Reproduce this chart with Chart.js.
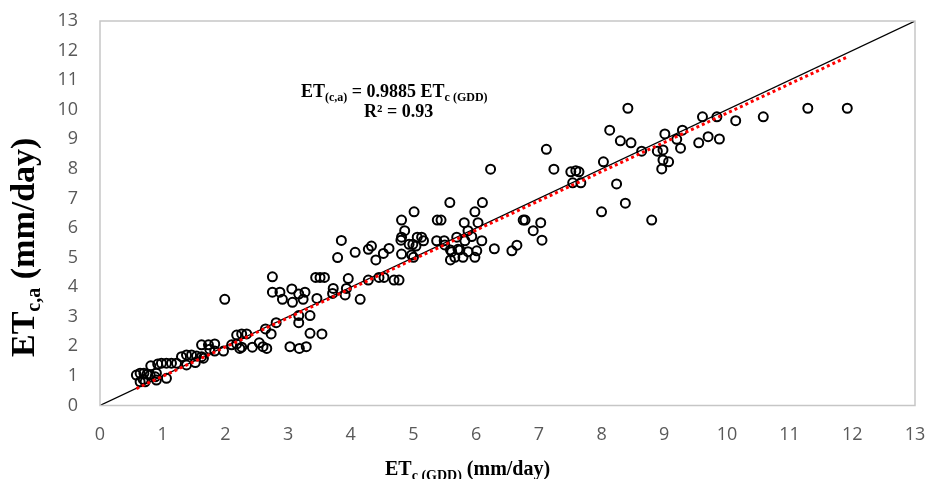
<!DOCTYPE html>
<html>
<head>
<meta charset="utf-8">
<script src="https://cdn.jsdelivr.net/npm/chart.js@4.4.1/dist/chart.umd.min.js"></script>
<style>
  html, body { margin: 0; padding: 0; background: #ffffff; }
  #wrap { width: 928px; height: 479px; }
</style>
</head>
<body>
<div id="wrap"><canvas id="etChart" width="928" height="479"></canvas></div>
<script>
const etGdd = [
    0.58, 0.64, 0.70, 0.75, 0.80, 0.64, 0.72, 0.69, 0.88, 0.90,
    0.81, 0.90, 0.92, 0.98, 1.06, 1.14, 1.22, 1.06, 1.30, 1.38,
    1.46, 1.54, 1.62, 1.38, 1.52, 1.65, 1.62, 1.73, 1.83, 1.75,
    1.97, 1.83, 1.99, 2.18, 2.10, 2.18, 2.23, 2.26, 2.34, 2.26,
    2.43, 2.54, 2.60, 2.66, 2.64, 2.73, 2.81, 2.75, 2.75, 2.87,
    2.91, 3.06, 3.07, 3.17, 3.27, 3.24, 3.03, 3.18, 3.29, 3.17,
    3.17, 3.35, 3.35, 3.54, 3.44, 3.51, 3.58, 3.46, 3.72, 3.71,
    3.93, 3.91, 3.96, 4.15, 3.85, 3.79, 4.07, 4.28, 4.33, 4.28,
    4.45, 4.53, 4.40, 4.52, 4.61, 4.69, 4.77, 4.81, 4.86, 4.81,
    4.80, 4.81, 4.93, 4.99, 5.01, 5.06, 5.13, 5.16, 5.04, 4.97,
    5.00, 5.37, 5.38, 5.44, 5.49, 5.50, 5.58, 5.59, 5.59, 5.61,
    5.66, 5.69, 5.71, 5.74, 5.79, 5.82, 5.81, 5.87, 5.87, 5.93,
    5.98, 5.98, 6.01, 6.03, 6.09, 6.10, 6.23, 6.29, 6.57, 6.65,
    6.75, 6.78, 6.91, 7.03, 7.05, 7.12, 7.24, 7.51, 7.59, 7.64,
    7.54, 7.67, 8.00, 8.03, 8.13, 8.24, 8.30, 8.38, 8.42, 8.47,
    8.64, 8.80, 8.89, 8.96, 8.98, 8.98, 9.01, 9.07, 9.20, 9.26,
    9.29, 9.55, 9.61, 9.70, 9.84, 9.88, 10.14, 10.58, 11.29, 11.92
];
const etActual = [
    1.03, 1.09, 1.09, 1.06, 1.03, 0.80, 0.80, 0.88, 0.97, 0.86,
    1.34, 1.09, 1.40, 1.43, 1.43, 1.43, 1.43, 0.92, 1.65, 1.71,
    1.71, 1.67, 1.65, 1.37, 1.45, 1.60, 2.05, 2.05, 2.08, 1.90,
    1.84, 1.84, 3.59, 2.38, 2.05, 2.08, 1.93, 2.42, 2.42, 1.97,
    1.97, 2.12, 1.99, 1.93, 2.59, 2.42, 2.80, 4.35, 3.83, 3.83,
    3.59, 3.94, 3.49, 3.77, 3.83, 3.59, 1.99, 1.93, 1.99, 3.04,
    2.80, 3.04, 2.44, 2.42, 4.33, 4.33, 4.33, 3.62, 3.96, 3.79,
    3.96, 3.74, 4.29, 3.59, 5.58, 5.00, 5.18, 5.28, 5.39, 4.24,
    4.33, 4.33, 4.92, 5.14, 5.31, 4.24, 4.24, 6.27, 5.91, 5.69,
    5.59, 5.12, 5.45, 5.45, 6.55, 5.69, 5.69, 5.57, 5.39, 5.09,
    5.01, 5.57, 6.27, 6.27, 5.57, 5.43, 6.86, 5.26, 4.92, 5.20,
    5.01, 5.69, 5.28, 5.26, 5.01, 5.57, 6.18, 5.91, 5.20, 5.71,
    6.55, 5.01, 5.23, 6.18, 5.57, 6.86, 7.99, 5.30, 5.23, 5.42,
    6.27, 6.27, 5.91, 6.18, 5.59, 8.66, 7.99, 7.90, 7.94, 7.90,
    7.53, 7.53, 6.55, 8.24, 9.31, 7.49, 8.95, 6.84, 10.05, 8.88,
    8.60, 6.27, 8.60, 8.00, 8.64, 8.30, 9.18, 8.24, 9.00, 8.70,
    9.31, 8.88, 9.76, 9.09, 9.76, 9.01, 9.63, 9.76, 10.05, 10.05
];

// axis ticks (mm/day)
const xTickValues = [0, 1, 2, 3, 4, 5, 6, 7, 8, 9, 10, 11, 12, 13];
const yTickValues = [0, 1, 2, 3, 4, 5, 6, 7, 8, 9, 10, 11, 12, 13];

// regression through origin and the 1:1 line
const fitSlope = 0.9885;
const fitRange = [0.58, 11.92];
const oneToOne = [0, 13];

const scatterPoints = etGdd.map((x, i) => ({ x: x, y: etActual[i] }));
const fitPoints = fitRange.map(x => ({ x: x, y: fitSlope * x }));
const linePoints = oneToOne.map(v => ({ x: v, y: v }));

// draw text pieces one after another: [text, size, dy]
function drawRun(ctx, parts, x, y) {
    parts.forEach(p => {
        ctx.font = 'bold ' + p[1] + 'px "Liberation Serif"';
        ctx.fillText(p[0], x, y + p[2]);
        x += ctx.measureText(p[0]).width;
    });
}

// frame, equation text and axis titles drawn on top of the chart
const decorPlugin = {
    id: 'decor',
    afterDraw(chart) {
        const ctx = chart.ctx;
        const a = chart.chartArea;
        ctx.save();

        // light grey box around plot
        ctx.strokeStyle = '#c6c6c6';
        ctx.lineWidth = 1.5;
        ctx.strokeRect(a.left, a.top, a.right - a.left, a.bottom - a.top);

        ctx.fillStyle = '#000000';
        ctx.textBaseline = 'alphabetic';
        ctx.textAlign = 'left';

        // regression equation
        drawRun(ctx, [['ET', 18, 0], ['(c,a)', 12, 4], [' = 0.9885 ET', 18, 0], ['c (GDD)', 12, 4]], 301, 97);
        drawRun(ctx, [['R\u00B2 = 0.93', 18, 0]], 364, 117);

        // x axis title
        drawRun(ctx, [['ET', 20, 0], ['c (GDD)', 14, 5], [' (mm/day)', 20, 0]], 385, 475);

        // y axis title
        ctx.translate(34, 357);
        ctx.rotate(-Math.PI / 2);
        drawRun(ctx, [['ET', 34, 0], ['c,a', 20, 6], [' (mm/day)', 34, 0]], 0, 0);

        ctx.restore();
    }
};

function initEtChart() {
    const ctx = document.getElementById('etChart').getContext('2d');

    const tickFont = { family: '"Open Sans"', size: 18 };

    new Chart(ctx, {
        type: 'scatter',
        data: {
            datasets: [
                {
                    label: 'Fit',
                    type: 'line',
                    data: fitPoints,
                    borderColor: '#ff0000',
                    borderWidth: 3,
                    borderDash: [3, 3],
                    pointRadius: 0,
                    fill: false,
                    order: 0
                },
                {
                    label: '1:1',
                    type: 'line',
                    data: linePoints,
                    borderColor: '#000000',
                    borderWidth: 1.2,
                    pointRadius: 0,
                    fill: false,
                    order: 1
                },
                {
                    label: 'ET',
                    data: scatterPoints,
                    pointStyle: 'circle',
                    pointRadius: 4.5,
                    pointBorderWidth: 2,
                    pointBorderColor: '#000000',
                    pointBackgroundColor: 'rgba(0,0,0,0)',
                    order: 2
                }
            ]
        },
        options: {
            responsive: false,
            animation: false,
            layout: { padding: { top: 21, right: 13, left: 0, bottom: 0 } },
            plugins: {
                legend: { display: false },
                tooltip: { enabled: false }
            },
            scales: {
                x: {
                    type: 'linear',
                    min: 0,
                    max: 13,
                    afterBuildTicks: function(scale) {
                        scale.ticks = xTickValues.map(v => ({ value: v }));
                    },
                    afterFit: function(scale) {
                        scale.height = 73.5;
                        scale.paddingLeft = 0;
                        scale.paddingRight = 0;
                    },
                    grid: { display: false, drawTicks: false },
                    border: { display: false },
                    ticks: { color: '#595959', font: tickFont, padding: 19, maxRotation: 0 }
                },
                y: {
                    type: 'linear',
                    min: 0,
                    max: 13,
                    afterBuildTicks: function(scale) {
                        scale.ticks = yTickValues.map(v => ({ value: v }));
                    },
                    afterFit: function(scale) {
                        scale.width = 100;
                        scale.paddingTop = 0;
                        scale.paddingBottom = 0;
                    },
                    grid: { display: false, drawTicks: false },
                    border: { display: false },
                    ticks: { color: '#595959', font: tickFont, padding: 22 }
                }
            }
        },
        plugins: [decorPlugin]
    });
}

document.addEventListener('DOMContentLoaded', initEtChart);
</script>
</body>
</html>
